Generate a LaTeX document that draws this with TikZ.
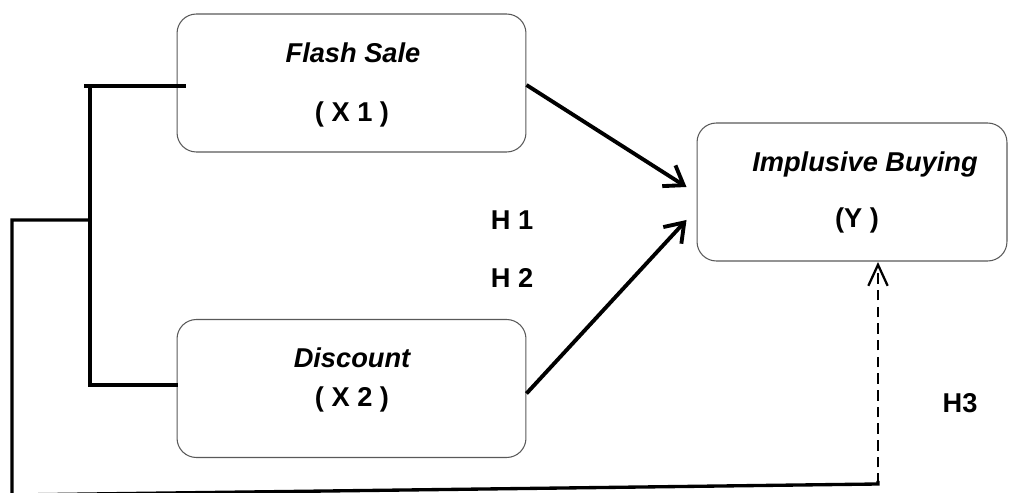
\documentclass[tikz,border=0pt]{standalone}
\usepackage{fontspec}
\setmainfont{Liberation Sans}
\usetikzlibrary{arrows.meta,calc}

\tikzset{
  varbox/.style={draw=black!65,line width=0.6pt,rounded corners=11pt,
    minimum width=6.98cm,minimum height=2.76cm,inner sep=0pt},
  lbl/.style={font=\fontsize{15.5}{18}\selectfont\bfseries,anchor=base,inner sep=0pt},
  link/.style={line width=1.9pt},
  arr/.style={line width=2.2pt,-{Straight Barb[length=10pt,width=14pt]}},
  dasharr/.style={line width=1.3pt,dash pattern=on 6pt off 3.5pt,
    -{Straight Barb[length=12pt,width=11pt]}}
}

\begin{document}
\begin{tikzpicture}[x=0.02cm,y=-0.02cm]
\useasboundingbox (0,0) rectangle (1012,493);
% variables
\node[varbox] (x1) at (351.5,83) {};
\node[varbox] (x2) at (351.5,388.5) {};
\node[varbox,minimum width=6.2cm] (y) at (852,192) {};
\node[lbl] (x1name) at (353,63) {\itshape Flash Sale};
\node[lbl] (x1code) at (352,122) {( X 1 )};
\node[lbl] (x2name) at (352,368) {\itshape Discount};
\node[lbl] (x2code) at (352,407) {( X 2 )};
\node[lbl] (yname) at (865,172) {\itshape Implusive Buying};
\node[lbl] (ycode) at (857,228) {(Y )};
% hypotheses
\node[lbl] (h1) at (512,230) {H 1};
\node[lbl] (h2) at (512,288) {H 2};
\node[lbl] (h3) at (960,413) {H3};
% direct effects
\draw[arr] ($(x1.east)+(0,2)$) -- ($(y.west)+(-10,-5)$);
\draw[arr] ($(x2.east)+(0,5)$) -- ($(y.west)+(-10,28)$);
% joint effect
\coordinate (tickl) at (84,86);
\coordinate (tickr) at (186,86);
\coordinate (jtop) at (90,86);
\coordinate (jbot) at (178,385);
\coordinate (split) at (90,220);
\coordinate (outer) at (12,220);
\coordinate (corner) at (12,495);
\coordinate (foot) at (878,484);
\coordinate (yin) at (878,262);
\draw[link] (tickl) -- (tickr);
\draw[link] (jtop) |- (jbot);
\draw[link] (split) -- (outer) -- (corner) -- (foot) -- ++(0,-3);
\draw[dasharr] (foot) -- (yin);
\end{tikzpicture}
\end{document}
